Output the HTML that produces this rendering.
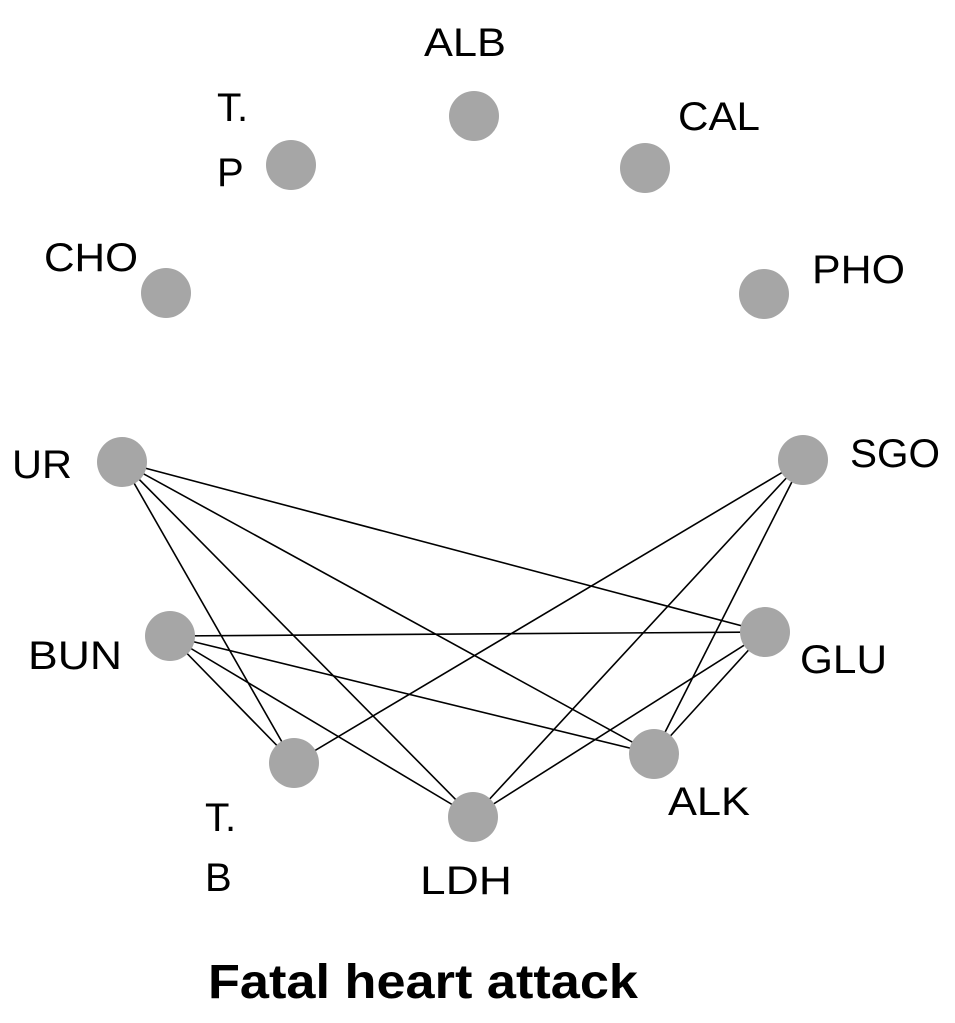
<!DOCTYPE html>
<html><head><style>
html,body{margin:0;padding:0;background:#fff;}
svg{display:block;}
text{font-family:"Liberation Sans",sans-serif;font-size:40px;fill:#000;}
</style></head><body>
<svg width="955" height="1023" viewBox="0 0 955 1023">
<g stroke="#000" stroke-width="1.6">
<line x1="122" y1="462" x2="765" y2="632"/>
<line x1="122" y1="462" x2="654" y2="754"/>
<line x1="122" y1="462" x2="473" y2="817"/>
<line x1="122" y1="462" x2="294" y2="763"/>
<line x1="170" y1="636" x2="765" y2="632"/>
<line x1="170" y1="636" x2="654" y2="754"/>
<line x1="170" y1="636" x2="473" y2="817"/>
<line x1="170" y1="636" x2="294" y2="763"/>
<line x1="803" y1="460" x2="294" y2="763"/>
<line x1="803" y1="460" x2="473" y2="817"/>
<line x1="803" y1="460" x2="654" y2="754"/>
<line x1="765" y1="632" x2="473" y2="817"/>
<line x1="765" y1="632" x2="654" y2="754"/>
</g>
<g fill="#a6a6a6">
<circle cx="474" cy="116" r="25"/>
<circle cx="291" cy="165" r="25"/>
<circle cx="645" cy="168" r="25"/>
<circle cx="166" cy="293" r="25"/>
<circle cx="764" cy="294" r="25"/>
<circle cx="122" cy="462" r="25"/>
<circle cx="803" cy="460" r="25"/>
<circle cx="170" cy="636" r="25"/>
<circle cx="765" cy="632" r="25"/>
<circle cx="294" cy="763" r="25"/>
<circle cx="654" cy="754" r="25"/>
<circle cx="473" cy="817" r="25"/>
</g>
<text x="424" y="56" textLength="82" lengthAdjust="spacingAndGlyphs">ALB</text>
<text x="217" y="121">T.</text>
<text x="217" y="186">P</text>
<text x="678" y="130" textLength="82" lengthAdjust="spacingAndGlyphs">CAL</text>
<text x="44" y="271" textLength="94" lengthAdjust="spacingAndGlyphs">CHO</text>
<text x="812" y="283" textLength="93" lengthAdjust="spacingAndGlyphs">PHO</text>
<text x="12" y="478" textLength="60" lengthAdjust="spacingAndGlyphs">UR</text>
<text x="850" y="467" textLength="90" lengthAdjust="spacingAndGlyphs">SGO</text>
<text x="28" y="669" textLength="94" lengthAdjust="spacingAndGlyphs">BUN</text>
<text x="800" y="673" textLength="87" lengthAdjust="spacingAndGlyphs">GLU</text>
<text x="668" y="815" textLength="82" lengthAdjust="spacingAndGlyphs">ALK</text>
<text x="205" y="831">T.</text>
<text x="205" y="891">B</text>
<text x="420" y="894" textLength="92" lengthAdjust="spacingAndGlyphs">LDH</text>
<text x="208" y="998" textLength="430" lengthAdjust="spacingAndGlyphs" style="font-weight:bold;font-size:48px">Fatal heart attack</text>
</svg>
</body></html>
